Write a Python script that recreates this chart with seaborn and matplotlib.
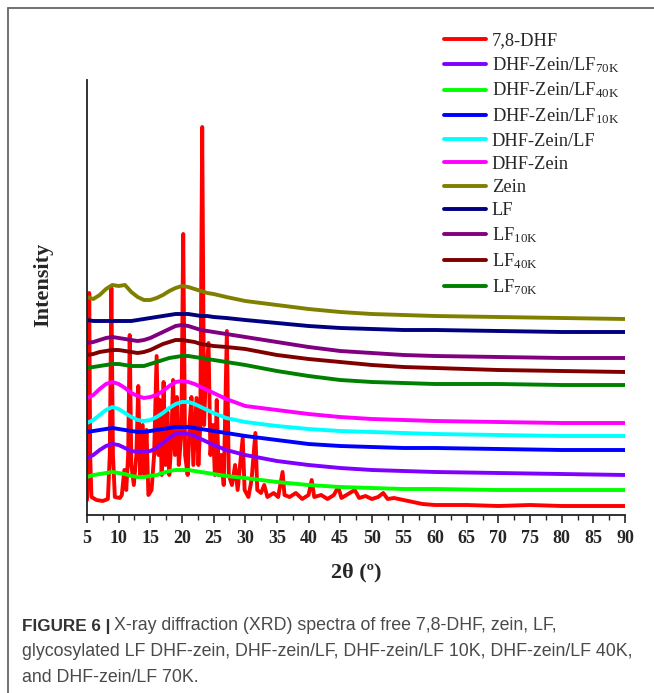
import pandas as pd
import seaborn as sns
import matplotlib.pyplot as plt
from matplotlib.lines import Line2D
from matplotlib.ticker import MultipleLocator

# XRD curves (intensity in arbitrary units, stacked offsets)
two_theta = [5, 6, 7, 8, 9, 10, 11, 12, 13, 14, 15, 16, 17, 18, 19, 20, 21, 22,
             23, 24, 25, 27, 30, 35, 40, 45, 50, 55, 60, 70, 80, 90]

zein = [218, 216, 220, 226, 230, 229, 230, 223, 218, 215, 215, 217, 220, 224, 227, 229,
        228, 226, 224, 222, 221, 218, 214, 210, 206, 203, 201, 200, 199, 198, 197, 196]
lf = [195, 194, 194, 194, 194, 194, 194, 194, 195, 196, 197, 198, 199, 200, 201, 201,
      201, 200, 199, 199, 198, 197, 195, 192, 189, 187, 186, 185, 185, 184, 183, 183]
lf_10k = [172, 173, 175, 177, 178, 177, 176, 175, 174, 175, 177, 180, 183, 186, 189, 190,
          189, 187, 185, 184, 183, 181, 178, 173, 168, 164, 162, 160, 159, 158, 157, 157]
lf_40k = [160, 161, 163, 164, 165, 165, 164, 163, 162, 163, 165, 168, 171, 173, 175, 175,
          174, 173, 171, 170, 169, 168, 166, 160, 156, 153, 150, 148, 147, 145, 144, 143]
lf_70k = [147, 148, 149, 150, 151, 151, 150, 149, 149, 149, 151, 153, 155, 157, 158, 159,
          159, 158, 157, 156, 155, 153, 150, 144, 139, 135, 133, 132, 131, 131, 130, 130]
dhf_zein = [117, 120, 126, 131, 133, 131, 127, 122, 119, 117, 118, 120, 124, 129, 133, 134,
            133, 131, 128, 125, 122, 116, 109, 105, 101, 98, 96, 95, 94, 93, 92, 92]
dhf_zein_lf = [92, 95, 100, 105, 108, 106, 102, 98, 95, 94, 95, 98, 102, 107, 111, 113,
               113, 111, 108, 105, 102, 97, 93, 89, 86, 84, 83, 82, 81, 80, 79, 79]
dhf_zein_lf10k = [83, 84, 85, 86, 87, 86, 85, 84, 83, 83, 84, 85, 86, 87, 88, 88,
                  88, 87, 86, 85, 84, 82, 79, 75, 71, 69, 68, 67, 67, 66, 65, 65]
dhf_zein_lf70k = [57, 60, 65, 69, 71, 70, 67, 64, 63, 63, 64, 67, 72, 77, 81, 82,
                  81, 79, 76, 73, 70, 65, 60, 54, 50, 47, 45, 44, 43, 42, 41, 40]
dhf_zein_lf40k = [38, 40, 41, 42, 43, 42, 41, 39, 38, 38, 39, 40, 42, 44, 45, 45,
                  45, 44, 43, 42, 41, 39, 37, 33, 30, 28, 27, 26, 26, 25, 25, 25]

# free 7,8-DHF (crystalline, sharp peaks)
dhf_x = [5.0, 5.2, 5.35, 5.5, 5.7, 6.5, 7.5, 8.3, 8.6, 8.85, 9.1, 9.4, 10.2, 10.5, 10.9,
         11.2, 11.5, 11.75, 12.0, 12.4, 12.8, 13.1, 13.4, 13.8, 14.1, 14.4, 14.7, 15.2,
         15.6, 16.0, 16.3, 16.5, 16.8, 17.1, 17.4, 17.7, 18.0, 18.3, 18.6, 18.9, 19.2,
         19.5, 19.9, 20.2, 20.5, 20.9, 21.2, 21.5, 21.8, 22.3, 22.6, 22.9, 23.2, 23.5,
         23.7, 24.2, 24.5, 24.9, 25.2, 25.5, 25.8, 26.2, 26.6, 27.1, 27.4, 27.9, 28.4,
         28.8, 29.6, 29.9, 30.5, 31.0, 31.6, 31.9, 32.5, 33.0, 33.5, 34.5, 35.2, 35.9,
         36.2, 37.0, 38.0, 39.0, 40.0, 40.5, 40.9, 42.0, 43.0, 44.0, 44.7, 45.2, 46.0,
         47.3, 48.0, 49.0, 50.0, 51.0, 51.8, 52.5, 53.5, 55.0, 56.5, 58.0, 60.0, 65.0,
         70.0, 75.0, 80.0, 85.0, 90.0]
dhf_y = [15, 60, 222, 60, 18, 15, 14, 16, 60, 227, 60, 18, 17, 20, 45,
         25, 60, 180, 50, 30, 60, 129, 40, 90, 40, 85, 20, 25,
         60, 159, 60, 115, 40, 133, 50, 103, 40, 70, 135, 60, 118,
         50, 80, 281, 60, 40, 90, 118, 50, 117, 50, 90, 388, 90,
         128, 172, 60, 90, 40, 115, 40, 60, 30, 184, 40, 30, 50,
         25, 77, 25, 18, 35, 82, 25, 22, 30, 18, 22, 18, 43,
         20, 18, 22, 16, 20, 35, 18, 20, 16, 20, 28, 17, 20,
         25, 17, 19, 16, 18, 22, 16, 17, 15, 13, 11, 10, 10,
         9, 10, 9, 9, 9]

samples = ["7,8-DHF", "DHF-Zein/LF70K", "DHF-Zein/LF40K", "DHF-Zein/LF10K", "DHF-Zein/LF",
           "DHF-Zein", "Zein", "LF", "LF10K", "LF40K", "LF70K"]
legend_labels = ["7,8-DHF",
                 r"DHF-Zein/LF$_{\mathregular{70K}}$",
                 r"DHF-Zein/LF$_{\mathregular{40K}}$",
                 r"DHF-Zein/LF$_{\mathregular{10K}}$",
                 "DHF-Zein/LF", "DHF-Zein", "Zein", "LF",
                 r"LF$_{\mathregular{10K}}$",
                 r"LF$_{\mathregular{40K}}$",
                 r"LF$_{\mathregular{70K}}$"]
colors = ["#ff0000", "#8000ff", "#00ff00", "#0000ff", "#00ffff", "#ff00ff",
          "#808000", "#000080", "#800080", "#800000", "#008000"]

curves = [dhf_zein_lf70k, dhf_zein_lf40k, dhf_zein_lf10k, dhf_zein_lf,
          dhf_zein, zein, lf, lf_10k, lf_40k, lf_70k]

frames = [pd.DataFrame({"two_theta": dhf_x, "intensity": dhf_y, "sample": samples[0]})]
for name, vals in zip(samples[1:], curves):
    frames.append(pd.DataFrame({"two_theta": two_theta, "intensity": vals, "sample": name}))
df = pd.concat(frames, ignore_index=True)

sns.set_style("ticks")
plt.rcParams["font.family"] = ["Liberation Serif", "DejaVu Serif"]
plt.rcParams["mathtext.fontset"] = "stix"

fig = plt.figure(figsize=(6.54, 6.93), dpi=100)
ax = fig.add_axes([87 / 654, 1 - 515 / 693, 538 / 654, 435 / 693])

sns.lineplot(data=df, x="two_theta", y="intensity", hue="sample", hue_order=samples,
             palette=dict(zip(samples, colors)), estimator=None, sort=False,
             linewidth=2.8, legend=False, ax=ax)

ax.set_xlim(5, 90)
ax.set_ylim(0, 435)
ax.xaxis.set_major_locator(MultipleLocator(5))
ax.xaxis.set_minor_locator(MultipleLocator(2.5))
ax.set_yticks([])
for s in ["top", "right"]:
    ax.spines[s].set_visible(False)
for s in ["left", "bottom"]:
    ax.spines[s].set_linewidth(1.3)
    ax.spines[s].set_color("#222222")
ax.tick_params(axis="x", which="major", direction="out", length=6, width=1.2,
               labelsize=13, pad=5)
ax.tick_params(axis="x", which="minor", direction="out", length=3.5, width=1.0)
for lab in ax.get_xticklabels():
    lab.set_fontweight("bold")

ax.set_xlabel("2θ (º)", fontsize=16, fontweight="bold")
ax.xaxis.set_label_coords(0.5, -0.11)
ax.set_ylabel("Intensity", fontsize=16, fontweight="bold")
ax.yaxis.set_label_coords(-0.062, 0.53)

handles = [Line2D([0], [0], color=c, lw=2.8) for c in colors]
fig.legend(handles, legend_labels, loc="upper left", bbox_to_anchor=(444 / 654, 1 - 32 / 693),
           frameon=False, fontsize=13.2, handlelength=2.3, handletextpad=0.3,
           labelspacing=0.345, borderpad=0, borderaxespad=0)

# figure frame (top and left border)
fig.add_artist(Line2D([8 / 654, 1], [1 - 8 / 693, 1 - 8 / 693], color="#666666", lw=1.3))
fig.add_artist(Line2D([8 / 654, 8 / 654], [0, 1 - 8 / 693], color="#666666", lw=1.3))

# caption
cap_font = ["Liberation Sans", "DejaVu Sans"]
bold = fig.text(22 / 654, 1 - 626 / 693, "FIGURE 6 |", family=cap_font, fontweight="bold",
                fontsize=12.3, color="#333333", va="center")
fig.canvas.draw()
bb = bold.get_window_extent().transformed(fig.transFigure.inverted())
fig.text(bb.x1 + 4 / 654, 1 - 626 / 693,
         "X-ray diffraction (XRD) spectra of free 7,8-DHF, zein, LF,",
         family=cap_font, fontsize=12.8, color="#4a4a4a", va="center")
fig.text(22 / 654, 1 - 652 / 693,
         "glycosylated LF DHF-zein, DHF-zein/LF, DHF-zein/LF 10K, DHF-zein/LF 40K,",
         family=cap_font, fontsize=12.8, color="#4a4a4a", va="center")
fig.text(22 / 654, 1 - 677 / 693, "and DHF-zein/LF 70K.",
         family=cap_font, fontsize=12.8, color="#4a4a4a", va="center")

fig.savefig("out.png", dpi=100)
